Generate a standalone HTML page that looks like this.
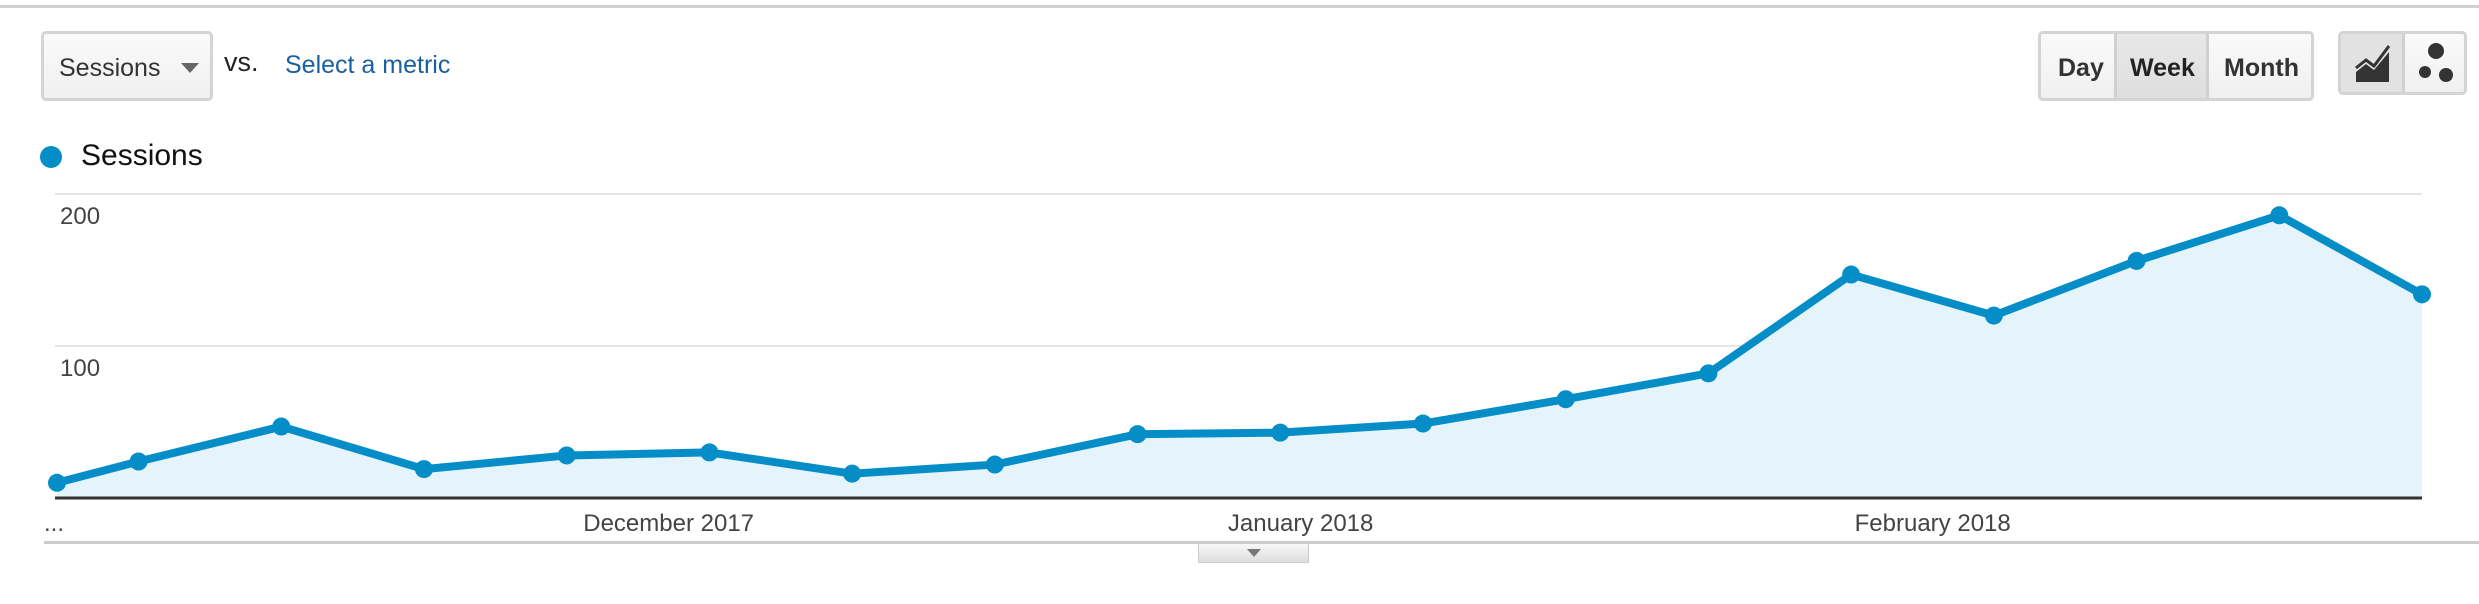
<!DOCTYPE html>
<html><head><meta charset="utf-8"><style>
body{margin:0;width:2479px;height:604px;background:#fff;font-family:"Liberation Sans",Arial,sans-serif;overflow:hidden;position:relative}
.abs{position:absolute}
.btn{position:absolute;box-sizing:border-box;border:3px solid #d4d4d4;border-radius:5px;background:linear-gradient(#fafafa,#f0f0f0)}
</style></head><body>
<div class="abs" style="left:0;top:5px;width:2479px;height:3px;background:#d0d0d0"></div>
<div class="btn" style="left:41px;top:31px;width:172px;height:70px">
 <span class="abs" style="left:15px;top:20px;font-size:25px;color:#333">Sessions</span>
 <span class="abs" style="left:137px;top:29px;width:0;height:0;border-left:9px solid transparent;border-right:9px solid transparent;border-top:10px solid #666"></span>
</div>
<span class="abs" style="left:224px;top:47px;font-size:27px;color:#222">vs.</span>
<span class="abs" style="left:285px;top:51px;font-size:25px;color:#1a5fa0">Select a metric</span>

<div class="btn" style="left:2038px;top:31px;width:276px;height:70px;font-weight:bold;font-size:25px;color:#333">
 <span class="abs" style="left:17px;top:20px">Day</span>
 <div class="abs" style="left:73px;top:0;width:95px;height:64px;background:linear-gradient(#e8e8e8,#dedede);border-left:3px solid #d0d0d0;border-right:3px solid #d0d0d0;box-sizing:border-box"><span class="abs" style="left:13px;top:20px;color:#222">Week</span></div>
 <span class="abs" style="left:183px;top:20px">Month</span>
</div>
<div class="btn" style="left:2338px;top:31px;width:129px;height:64px">
 <div class="abs" style="left:0;top:0;width:64px;height:58px;background:#e2e2e2;border-right:3px solid #d0d0d0;box-sizing:border-box">
  <svg width="64" height="58" style="position:absolute;left:0;top:0"><path d="M15 48 L15 38 L25 30 L33 36 L48 18 L48 48 Z" fill="#333"/><path d="M15 34 L25 26 L33 32 L48 12" stroke="#333" stroke-width="3" fill="none"/></svg>
 </div>
 <svg width="64" height="58" style="position:absolute;left:64px;top:0"><circle cx="31" cy="17" r="8" fill="#333"/><circle cx="20" cy="38" r="6" fill="#333"/><circle cx="41" cy="41" r="7" fill="#333"/></svg>
</div>

<div class="abs" style="left:40px;top:146px;width:22px;height:22px;border-radius:50%;background:#058dc7"></div>
<span class="abs" style="left:81px;top:139px;font-size:30px;color:#111">Sessions</span>

<svg id="chart" class="abs" style="left:0;top:0" width="2479" height="604"></svg>
<div class="abs" style="left:44px;top:541px;width:2435px;height:3px;background:#ccc"></div>
<div class="abs" style="left:1198px;top:543px;width:111px;height:20px;background:linear-gradient(#f8f8f8,#ddd);border:1px solid #ccc;box-sizing:border-box">
 <span class="abs" style="left:48px;top:5px;width:0;height:0;border-left:7px solid transparent;border-right:7px solid transparent;border-top:8px solid #777"></span>
</div>
<script>
const pointDays=[0,4,11,18,25,32,39,46,53,60,67,74,81,88,95,102,109,116];
const sessions=[10,24,47,19,28,30,16,22,42,43,49,65,82,147,120,156,186,134];
const yTicks=[100,200];
const monthLabels=["December 2017","January 2018","February 2018"];
const monthDays=[30,61,92];
const NS="http://www.w3.org/2000/svg";
const svg=document.getElementById('chart');
const x0=57,x1=2422,dMax=116,yBase=498,yTop=194,vMax=200;
const X=d=>x0+(x1-x0)*d/dMax;
const Y=v=>yBase-(yBase-yTop)*v/vMax;
function mk(t,a){const e=document.createElementNS(NS,t);for(const k in a)e.setAttribute(k,a[k]);svg.appendChild(e);return e;}
yTicks.forEach(t=>{
 const g=mk('line',{x1:55,x2:2422,y1:Y(t),y2:Y(t),stroke:'#e6e6e6','stroke-width':2});
 
 
 const l=mk('text',{x:60,y:Y(t)+30,'font-size':24,fill:'#444','font-family':'Liberation Sans'});
 l.textContent=t;
 
 
});
let pts=pointDays.map((d,i)=>X(d)+','+Y(sessions[i])).join(' ');
const area=mk('polygon',{points:X(pointDays[0])+','+yBase+' '+pts+' '+X(pointDays[pointDays.length-1])+','+yBase,fill:'#e5f3fa'});


const ax=mk('line',{x1:55,x2:2422,y1:yBase,y2:yBase,stroke:'#333','stroke-width':3});


const line=mk('polyline',{points:pts,fill:'none',stroke:'#058dc7','stroke-width':8,'stroke-linejoin':'round'});


pointDays.forEach((d,i)=>{
 const c=mk('circle',{cx:X(d),cy:Y(sessions[i]),r:9,fill:'#058dc7'});
 
 
});
monthLabels.forEach((m,i)=>{
 const t=mk('text',{x:X(monthDays[i]),y:531,'font-size':24,fill:'#444','text-anchor':'middle','font-family':'Liberation Sans'});
 t.textContent=m;
 
 
});
const el=mk('text',{x:44,y:531,'font-size':24,fill:'#444','font-family':'Liberation Sans'});
el.textContent='...';


</script>
</body></html>
